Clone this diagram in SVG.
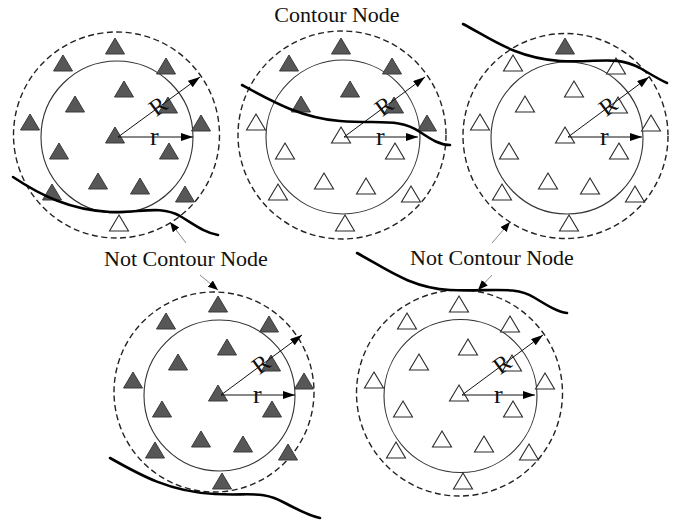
<svg xmlns="http://www.w3.org/2000/svg" xmlns:xlink="http://www.w3.org/1999/xlink" width="676" height="522" viewBox="0 0 676 522">
  <style>
    .bg { fill: #ffffff; }
    .dk { fill: #575757; stroke: #3a3a3a; stroke-width: 1; }
    .wt { fill: #ffffff; stroke: #2a2a2a; stroke-width: 1.1; }
    .inner { fill: none; stroke: #333; stroke-width: 1.1; }
    .outer { fill: none; stroke: #222; stroke-width: 1.4; stroke-dasharray: 6 3.5; }
    .radius { stroke: #111; stroke-width: 1; fill: none; marker-end: url(#head); }
    .contour { fill: none; stroke: #000; stroke-width: 2.6; stroke-linecap: round; }
    .pointer { stroke: #8a8a8a; stroke-width: 1; fill: none; marker-end: url(#phead); }
    .lbl { font-family: "Liberation Serif", "Times New Roman", serif; font-size: 22px; fill: #111; }
    .big-r { font-family: "Liberation Serif", "Times New Roman", serif; font-size: 24px; fill: #111; }
    .small-r { font-family: "Liberation Serif", "Times New Roman", serif; font-size: 26px; fill: #111; }
  </style>
  <defs>
    <!-- triangle with its apex at the origin -->
    <path id="tri" d="M0,0 L9.5,16 L-9.5,16 Z"/>
    <marker id="head" markerUnits="userSpaceOnUse" markerWidth="13" markerHeight="10" refX="12" refY="4" orient="auto">
      <path d="M0,0 L12,4 L0,8 Z" fill="#000"/>
    </marker>
    <marker id="phead" markerUnits="userSpaceOnUse" markerWidth="12" markerHeight="10" refX="10" refY="4" orient="auto">
      <path d="M0,0 L10,4 L0,8 Z" fill="#000"/>
    </marker>
  </defs>
  <rect class="bg" x="0" y="0" width="676" height="522"/>

  <!-- top-left: all dark except the bottom one -->
  <g id="node-a" transform="translate(117,136)">
    <circle class="outer" cx="-0.5" cy="-1" r="103"/>
    <circle class="inner" cx="0" cy="1" r="76"/>
    <use xlink:href="#tri" class="dk" x="-2" y="-98"/>
    <use xlink:href="#tri" class="dk" x="-54" y="-81"/>
    <use xlink:href="#tri" class="dk" x="49" y="-78"/>
    <use xlink:href="#tri" class="dk" x="7" y="-55"/>
    <use xlink:href="#tri" class="dk" x="-42" y="-40"/>
    <use xlink:href="#tri" class="dk" x="51" y="-39"/>
    <use xlink:href="#tri" class="dk" x="-87" y="-22"/>
    <use xlink:href="#tri" class="dk" x="84" y="-21"/>
    <use xlink:href="#tri" class="dk" x="-2" y="-9"/>
    <use xlink:href="#tri" class="dk" x="-58" y="7"/>
    <use xlink:href="#tri" class="dk" x="52" y="7"/>
    <use xlink:href="#tri" class="dk" x="-19" y="37"/>
    <use xlink:href="#tri" class="dk" x="23" y="42"/>
    <use xlink:href="#tri" class="dk" x="-65" y="48"/>
    <use xlink:href="#tri" class="dk" x="68" y="50"/>
    <use xlink:href="#tri" class="wt" x="2" y="79"/>
    <line class="radius" x1="1" y1="1" x2="83" y2="-59"/>
    <line class="radius" x1="1" y1="1" x2="76" y2="1"/>
    <text class="big-r" x="41" y="-30" text-anchor="middle" dominant-baseline="central" transform="rotate(-36 41 -30)">R</text>
    <text class="small-r" x="33" y="9">r</text>
  </g>

  <!-- top-middle: split by the contour line -->
  <g id="node-b" transform="translate(343,136)">
    <circle class="outer" cx="-1" cy="-1" r="104"/>
    <circle class="inner" cx="0" cy="1" r="77"/>
    <use xlink:href="#tri" class="dk" x="-2" y="-98"/>
    <use xlink:href="#tri" class="dk" x="-54" y="-81"/>
    <use xlink:href="#tri" class="dk" x="49" y="-78"/>
    <use xlink:href="#tri" class="dk" x="7" y="-55"/>
    <use xlink:href="#tri" class="dk" x="-42" y="-40"/>
    <use xlink:href="#tri" class="dk" x="51" y="-39"/>
    <use xlink:href="#tri" class="wt" x="-87" y="-22"/>
    <use xlink:href="#tri" class="dk" x="84" y="-21"/>
    <use xlink:href="#tri" class="wt" x="-2" y="-9"/>
    <use xlink:href="#tri" class="wt" x="-58" y="7"/>
    <use xlink:href="#tri" class="wt" x="52" y="7"/>
    <use xlink:href="#tri" class="wt" x="-19" y="37"/>
    <use xlink:href="#tri" class="wt" x="23" y="42"/>
    <use xlink:href="#tri" class="wt" x="-65" y="48"/>
    <use xlink:href="#tri" class="wt" x="68" y="50"/>
    <use xlink:href="#tri" class="wt" x="2" y="79"/>
    <line class="radius" x1="1" y1="1" x2="82" y2="-59"/>
    <line class="radius" x1="1" y1="1" x2="75" y2="1"/>
    <text class="big-r" x="41" y="-30" text-anchor="middle" dominant-baseline="central" transform="rotate(-36 41 -30)">R</text>
    <text class="small-r" x="33" y="9">r</text>
  </g>

  <!-- top-right: only the top one dark -->
  <g id="node-c" transform="translate(567,136)">
    <circle class="outer" cx="-1.5" cy="0" r="102.5"/>
    <circle class="inner" cx="0" cy="2" r="76"/>
    <use xlink:href="#tri" class="dk" x="-2" y="-98"/>
    <use xlink:href="#tri" class="wt" x="-54" y="-81"/>
    <use xlink:href="#tri" class="wt" x="49" y="-78"/>
    <use xlink:href="#tri" class="wt" x="7" y="-55"/>
    <use xlink:href="#tri" class="wt" x="-42" y="-40"/>
    <use xlink:href="#tri" class="wt" x="51" y="-39"/>
    <use xlink:href="#tri" class="wt" x="-87" y="-22"/>
    <use xlink:href="#tri" class="wt" x="84" y="-21"/>
    <use xlink:href="#tri" class="wt" x="-2" y="-9"/>
    <use xlink:href="#tri" class="wt" x="-58" y="7"/>
    <use xlink:href="#tri" class="wt" x="52" y="7"/>
    <use xlink:href="#tri" class="wt" x="-19" y="37"/>
    <use xlink:href="#tri" class="wt" x="23" y="42"/>
    <use xlink:href="#tri" class="wt" x="-65" y="48"/>
    <use xlink:href="#tri" class="wt" x="68" y="50"/>
    <use xlink:href="#tri" class="wt" x="2" y="79"/>
    <line class="radius" x1="1" y1="1" x2="82" y2="-59"/>
    <line class="radius" x1="1" y1="1" x2="75" y2="1"/>
    <text class="big-r" x="41" y="-30" text-anchor="middle" dominant-baseline="central" transform="rotate(-36 41 -30)">R</text>
    <text class="small-r" x="33" y="9">r</text>
  </g>

  <!-- bottom-left: all dark -->
  <g id="node-d" transform="translate(220,394)">
    <circle class="outer" cx="-6" cy="-2" r="100"/>
    <circle class="inner" cx="-0.5" cy="1.5" r="75.5"/>
    <use xlink:href="#tri" class="dk" x="-2" y="-98"/>
    <use xlink:href="#tri" class="dk" x="-54" y="-81"/>
    <use xlink:href="#tri" class="dk" x="49" y="-78"/>
    <use xlink:href="#tri" class="dk" x="7" y="-55"/>
    <use xlink:href="#tri" class="dk" x="-42" y="-40"/>
    <use xlink:href="#tri" class="dk" x="51" y="-39"/>
    <use xlink:href="#tri" class="dk" x="-87" y="-22"/>
    <use xlink:href="#tri" class="dk" x="84" y="-21"/>
    <use xlink:href="#tri" class="dk" x="-2" y="-9"/>
    <use xlink:href="#tri" class="dk" x="-58" y="7"/>
    <use xlink:href="#tri" class="dk" x="52" y="7"/>
    <use xlink:href="#tri" class="dk" x="-19" y="37"/>
    <use xlink:href="#tri" class="dk" x="23" y="42"/>
    <use xlink:href="#tri" class="dk" x="-65" y="48"/>
    <use xlink:href="#tri" class="dk" x="68" y="50"/>
    <use xlink:href="#tri" class="dk" x="2" y="79"/>
    <line class="radius" x1="1" y1="1" x2="82" y2="-59"/>
    <line class="radius" x1="1" y1="1" x2="75" y2="1"/>
    <text class="big-r" x="41" y="-30" text-anchor="middle" dominant-baseline="central" transform="rotate(-36 41 -30)">R</text>
    <text class="small-r" x="33" y="9">r</text>
  </g>

  <!-- bottom-right: all white -->
  <g id="node-e" transform="translate(461,394)">
    <circle class="outer" cx="-1.5" cy="-1" r="103"/>
    <circle class="inner" cx="-0.5" cy="2" r="76.5"/>
    <use xlink:href="#tri" class="wt" x="-2" y="-98"/>
    <use xlink:href="#tri" class="wt" x="-54" y="-81"/>
    <use xlink:href="#tri" class="wt" x="49" y="-78"/>
    <use xlink:href="#tri" class="wt" x="7" y="-55"/>
    <use xlink:href="#tri" class="wt" x="-42" y="-40"/>
    <use xlink:href="#tri" class="wt" x="51" y="-39"/>
    <use xlink:href="#tri" class="wt" x="-87" y="-22"/>
    <use xlink:href="#tri" class="wt" x="84" y="-21"/>
    <use xlink:href="#tri" class="wt" x="-2" y="-9"/>
    <use xlink:href="#tri" class="wt" x="-58" y="7"/>
    <use xlink:href="#tri" class="wt" x="52" y="7"/>
    <use xlink:href="#tri" class="wt" x="-19" y="37"/>
    <use xlink:href="#tri" class="wt" x="23" y="42"/>
    <use xlink:href="#tri" class="wt" x="-65" y="48"/>
    <use xlink:href="#tri" class="wt" x="68" y="50"/>
    <use xlink:href="#tri" class="wt" x="2" y="79"/>
    <line class="radius" x1="1" y1="1" x2="82" y2="-59"/>
    <line class="radius" x1="1" y1="1" x2="74" y2="1"/>
    <text class="big-r" x="41" y="-30" text-anchor="middle" dominant-baseline="central" transform="rotate(-36 41 -30)">R</text>
    <text class="small-r" x="33" y="9">r</text>
  </g>

  <!-- contour lines crossing each neighbourhood -->
  <g id="contours">
    <path class="contour" d="M13,177 C40,195 70,210 110,212 C140,213 160,205 180,216 C195,225 205,233 218,235"/>
    <path class="contour" d="M242,85 C270,100 300,118 340,121 C380,124 400,118 420,132 C432,140 440,145 450,145"/>
    <path class="contour" d="M463,24 C490,38 515,58 560,61 C600,63 615,55 640,68 C652,75 660,80 667,83"/>
    <path class="contour" d="M110,458 C140,475 170,492 215,494 C250,496 262,490 285,503 C300,511 310,516 320,518"/>
    <path class="contour" d="M357,253 C385,268 410,288 450,290 C490,292 515,285 535,298 C548,306 558,312 567,313"/>
  </g>

  <!-- label pointers -->
  <g id="connectors">
    <line class="pointer" x1="186" y1="243" x2="170" y2="222"/>
    <line class="pointer" x1="200" y1="275" x2="218" y2="290"/>
    <line class="pointer" x1="492" y1="243" x2="510" y2="222"/>
    <line class="pointer" x1="492" y1="275" x2="478" y2="290"/>
  </g>

  <g id="labels">
    <text class="lbl" x="337" y="22" text-anchor="middle">Contour Node</text>
    <text class="lbl" x="186" y="266" text-anchor="middle">Not Contour Node</text>
    <text class="lbl" x="492" y="265" text-anchor="middle">Not Contour Node</text>
  </g>
</svg>
